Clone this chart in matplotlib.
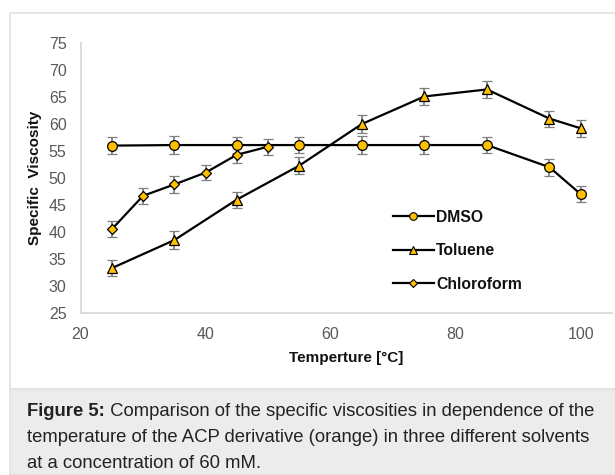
import matplotlib
matplotlib.use("Agg")
import matplotlib.pyplot as plt
from matplotlib.patches import Rectangle
from matplotlib.lines import Line2D

plt.rcParams['font.family'] = ['Liberation Sans', 'DejaVu Sans']

# ---- data ----
dmso_x = [25, 35, 45, 55, 65, 75, 85, 95, 100]
dmso_y = [56.0, 56.1, 56.1, 56.1, 56.1, 56.1, 56.1, 52.0, 47.0]
dmso_err = [1.6, 1.6, 1.5, 1.5, 1.6, 1.6, 1.5, 1.6, 1.5]

tol_x = [25, 35, 45, 55, 65, 75, 85, 95, 100]
tol_y = [33.3, 38.5, 46.0, 52.3, 60.0, 65.1, 66.4, 61.0, 59.2]
tol_err = [1.5, 1.6, 1.5, 1.5, 1.6, 1.5, 1.6, 1.5, 1.6]

chl_x = [25, 30, 35, 40, 45, 50]
chl_y = [40.5, 46.7, 48.8, 51.0, 54.3, 55.8]
chl_err = [1.5, 1.5, 1.6, 1.4, 1.6, 1.5]

series_names = ["DMSO", "Toluene", "Chloroform"]
x_ticks = [20, 40, 60, 80, 100]
y_ticks = [25, 30, 35, 40, 45, 50, 55, 60, 65, 70, 75]

caption_bold = "Figure 5:"
caption_line1 = " Comparison of the specific viscosities in dependence of the"
caption_line2 = "temperature of the ACP derivative (orange) in three different solvents"
caption_line3 = "at a concentration of 60 mM."

W, H = 615, 475
fig = plt.figure(figsize=(W / 100, H / 100), dpi=100)
fig.patch.set_facecolor('white')

# panel backgrounds
fig.patches.append(Rectangle((10 / W, 1 - 389 / H), 1.2, (389 - 13) / H,
                             transform=fig.transFigure, facecolor='white',
                             edgecolor='#e2e2e2', linewidth=1.2, zorder=-10))
fig.patches.append(Rectangle((10 / W, 0), 1.2, (H - 389) / H,
                             transform=fig.transFigure, facecolor='#ececec',
                             edgecolor='#e2e2e2', linewidth=1.2, zorder=-9))

ax = fig.add_axes([80.5 / W, 1 - 313 / H, (612 - 80.5) / W, (313 - 43) / H])
ax.set_facecolor('none')

gold = '#FFC000'
ecol = '#7f7f7f'
common = dict(color='black', lw=1.6, mfc=gold, mec='black', mew=0.9,
              ecolor=ecol, elinewidth=1.3, capsize=3.5, capthick=1.3)

ax.errorbar(dmso_x, dmso_y, yerr=dmso_err, marker='o', ms=7, **common)
ax.errorbar(tol_x, tol_y, yerr=tol_err, marker='^', ms=7.5, **common)
ax.errorbar(chl_x, chl_y, yerr=chl_err, marker='D', ms=5, **common)

ax.set_xlim(20, 105)
ax.set_ylim(25, 75)
ax.set_xticks(x_ticks)
ax.set_yticks(y_ticks)
ax.tick_params(length=0, labelsize=11.5, labelcolor='#595959')
ax.tick_params(axis='x', pad=10)
ax.tick_params(axis='y', pad=10)
for s in ['top', 'right']:
    ax.spines[s].set_visible(False)
for s in ['left', 'bottom']:
    ax.spines[s].set_color('#d9d9d9')
    ax.spines[s].set_linewidth(1.3)

ax.set_xlabel("Temperture [°C]", fontsize=11, fontweight='bold', color='#111111')
ax.xaxis.set_label_coords(0.5, (313 - 351) / 270)
ax.set_ylabel("Specific  Viscosity", fontsize=11, fontweight='bold', color='#111111')
ax.yaxis.set_label_coords((42 - 80.5) / 531.5, 0.5)

handles = [
    Line2D([], [], color='black', lw=1.6, marker='o', ms=5.5, mfc=gold, mec='black', mew=0.8),
    Line2D([], [], color='black', lw=1.6, marker='^', ms=5.5, mfc=gold, mec='black', mew=0.8),
    Line2D([], [], color='black', lw=1.6, marker='D', ms=4, mfc=gold, mec='black', mew=0.8),
]
leg = ax.legend(handles, series_names, loc='upper left',
                bbox_to_anchor=(393 / W, 1 - 209.5 / H), bbox_transform=fig.transFigure,
                frameon=False, borderpad=0, borderaxespad=0, handlelength=2.6,
                handletextpad=0.15, labelspacing=1.18,
                prop={'size': 11.3, 'weight': 'bold'})
for t in leg.get_texts():
    t.set_color('#111111')

# caption
cfs = 13.3
t1 = fig.text(27 / W, 1 - 411 / H, caption_bold, fontsize=cfs, fontweight='bold',
              color='#222222', va='center', ha='left')
fig.canvas.draw()
bb = t1.get_window_extent()
fig.text(bb.x1 / W, 1 - 411 / H, caption_line1, fontsize=cfs, color='#222222',
         va='center', ha='left')
fig.text(27 / W, 1 - 437 / H, caption_line2, fontsize=cfs, color='#222222',
         va='center', ha='left')
fig.text(27 / W, 1 - 463 / H, caption_line3, fontsize=cfs, color='#222222',
         va='center', ha='left')

fig.savefig('out.png', dpi=100)
